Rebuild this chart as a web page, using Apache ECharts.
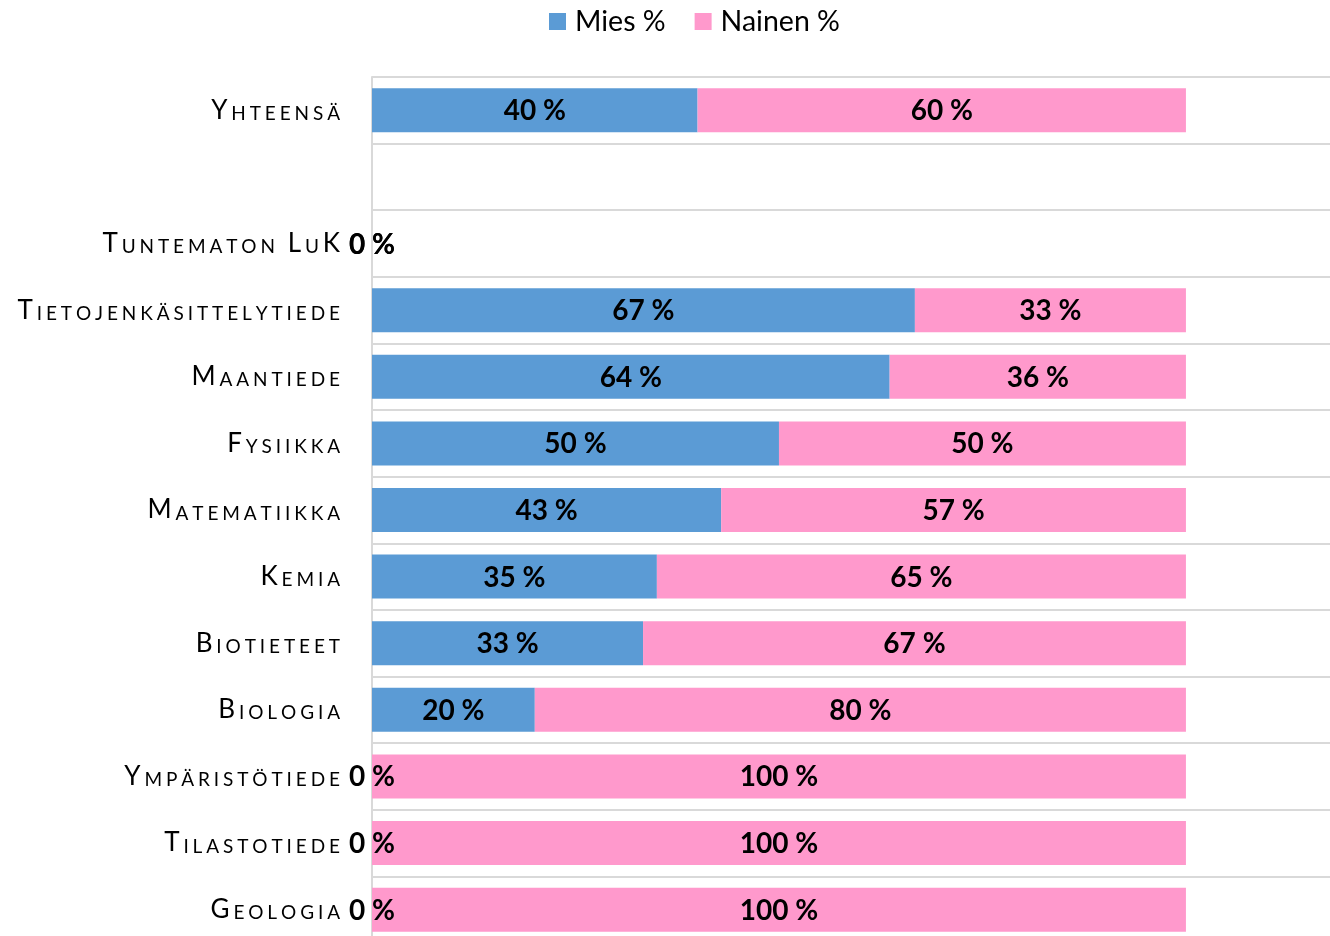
<!DOCTYPE html>
<html>
<head>
<meta charset="utf-8">
<script src="https://cdn.jsdelivr.net/npm/echarts@6/dist/echarts.min.js"></script>
<style>
  html, body { margin: 0; padding: 0; background: #fff; }
  #chart { width: 1330px; height: 936px; }
</style>
</head>
<body>
<div id="chart"></div>
<script>
// top to bottom
const categories = ['Yhteensä', '', 'Tuntematon LuK', 'Tietojenkäsittelytiede', 'Maantiede', 'Fysiikka',
  'Matematiikka', 'Kemia', 'Biotieteet', 'Biologia', 'Ympäristötiede', 'Tilastotiede', 'Geologia']
const miesPct = [40, null, 0, 66.7, 63.6, 50, 42.9, 35, 33.3, 20, 0, 0, 0]
const nainenPct = [60, null, 0, 33.3, 36.4, 50, 57.1, 65, 66.7, 80, 100, 100, 100]

// small caps: capitals big, lower case letters as small capitals
function smallCaps (value) {
  let chars = Array.from(value)
  return chars.map(function (c, i) {
    let last = i === chars.length - 1
    let up = c.toUpperCase()
    let style = (c !== ' ' && c === up && c !== c.toLowerCase()) ? 'b' : 's'
    return '{' + style + (last ? 'L' : '') + '|' + up + '}'
  }).join('')
}

const capBase = { fontFamily: 'Lato', color: '#000', verticalAlign: 'bottom', lineHeight: 26 }
const labelStyle = {
  show: true,
  position: 'inside',
  offset: [0, 1],
  fontFamily: 'Lato',
  fontWeight: 'bold',
  fontSize: 28,
  color: '#000',
  formatter: function (p) {
    return Math.round(p.value) + ' %'
  }
}

let myChart = echarts.init(document.getElementById('chart'))
myChart.setOption({
  animation: false,
  legend: {
    top: 2,
    left: 544,
    icon: 'rect',
    itemWidth: 17,
    itemHeight: 17,
    itemGap: 29,
    textStyle: { fontFamily: 'Lato', fontSize: 28.5, color: '#000', padding: [0, 0, 0, 4] },
    data: ['Mies %', 'Nainen %']
  },
  grid: {
    left: 372,
    right: 0,
    top: 77,
    bottom: -7,
    outerBoundsMode: 'none'
  },
  xAxis: {
    type: 'value',
    min: 0,
    max: 117.7,
    show: false
  },
  yAxis: {
    type: 'category',
    inverse: true,
    data: categories,
    axisTick: { show: false },
    axisLine: { show: true, lineStyle: { color: '#d9d9d9', width: 2 } },
    splitLine: { show: true, lineStyle: { color: '#d9d9d9', width: 2 } },
    axisLabel: {
      margin: 32,
      formatter: smallCaps,
      rich: {
        b: Object.assign({ fontSize: 26, padding: [0, 3.9, 0, 0] }, capBase),
        s: Object.assign({ fontSize: 19, padding: [0, 3.9, 0, 0] }, capBase),
        bL: Object.assign({ fontSize: 26 }, capBase),
        sL: Object.assign({ fontSize: 19 }, capBase)
      }
    }
  },
  series: [
    {
      name: 'Mies %',
      type: 'bar',
      stack: 'total',
      barWidth: 44,
      itemStyle: { color: '#5b9bd5' },
      label: labelStyle,
      data: miesPct
    },
    {
      name: 'Nainen %',
      type: 'bar',
      stack: 'total',
      barWidth: 44,
      itemStyle: { color: '#ff99cc' },
      label: labelStyle,
      data: nainenPct
    }
  ]
})
</script>
</body>
</html>
